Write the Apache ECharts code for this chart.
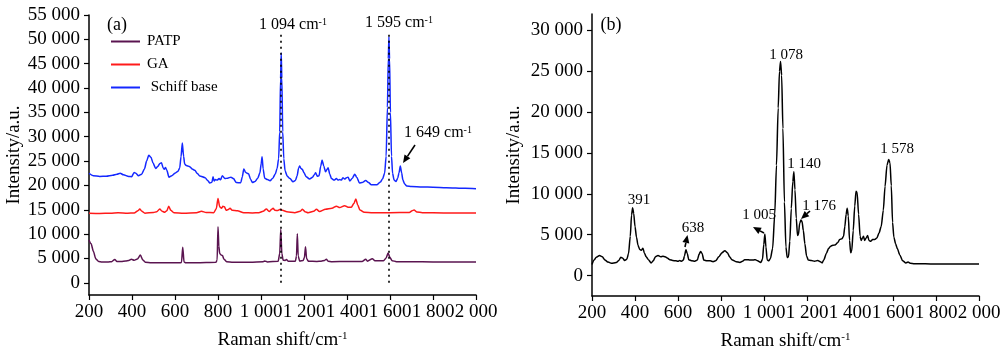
<!DOCTYPE html>
<html>
<head>
<meta charset="utf-8">
<script src="https://cdn.jsdelivr.net/npm/echarts@6/dist/echarts.min.js"></script>
<style>
html,body{margin:0;padding:0;background:#fff;}
#c{width:1000px;height:347px;}
</style>
</head>
<body>
<div id="c"></div>
<script>
// ---------- DATA ----------
const xTicks = [200, 400, 600, 800, 1000, 1200, 1400, 1600, 1800, 2000];
const yTicksA = [0, 5000, 10000, 15000, 20000, 25000, 30000, 35000, 40000, 45000, 50000, 55000];
const yTicksB = [0, 5000, 10000, 15000, 20000, 25000, 30000];

const patpShift = [200,210,220,232,245,260,290,305,320,330,350,370,385,397,410,425,439,450,462,490,560,620,630,636,642,650,700,790,796,800,804,808,815,821,827,840,870,950,1010,1017,1030,1080,1087,1092,1097,1103,1112,1118,1126,1160,1165,1169,1173,1180,1196,1202,1207,1212,1220,1260,1280,1296,1304,1312,1330,1400,1470,1487,1495,1518,1530,1570,1582,1591,1600,1610,1630,1700,1800,1900,2000];
const patpInt = [8800,8000,6500,4900,4400,4300,4300,4350,4800,4400,4400,4500,4600,4850,4650,4900,5700,4700,4250,4100,4100,4100,4150,7300,4300,4100,4100,4200,4700,11500,7500,6000,5700,5600,4900,4350,4250,4250,4350,4500,4300,4450,6000,11000,6000,4650,4600,4800,4450,4450,5500,10100,5500,4450,4600,5200,7400,5000,4450,4400,4450,4600,4850,4450,4350,4400,4400,4850,4450,4950,4550,4550,5100,6100,5200,4550,4350,4350,4300,4300,4300];

const gaShift = [200,250,300,335,380,410,428,436,446,460,500,515,529,540,552,562,571,580,595,640,700,723,745,780,792,800,808,816,823,830,838,846,856,866,890,920,960,990,1010,1025,1038,1050,1056,1065,1078,1090,1100,1120,1157,1182,1193,1205,1219,1245,1258,1272,1300,1330,1351,1366,1389,1405,1420,1432,1441,1450,1460,1480,1520,1600,1690,1703,1712,1725,1750,1850,2000];
const gaInt = [14300,14250,14300,14400,14300,14350,14800,15150,14700,14300,14450,14600,15150,14700,14500,14800,15750,14900,14400,14300,14400,14700,14450,14400,15200,17300,15600,15300,15700,15600,14900,15000,15300,14900,14800,14400,14350,14400,14700,15150,14650,15100,15300,14900,14850,15100,14900,14600,14400,14700,15100,14600,14400,14700,15100,14650,15100,15300,15750,15450,15850,15500,15500,16300,17200,16000,14950,14500,14400,14400,14450,14800,14950,14550,14400,14350,14350];

const schiffShift = [200,220,250,280,310,330,345,360,385,398,410,418,430,445,458,468,478,488,498,510,520,530,537,545,550,556,562,572,585,600,614,622,628,634,640,645,652,660,670,680,692,705,715,740,752,762,772,777,782,788,796,805,812,820,832,845,860,872,885,906,913,920,928,935,942,952,960,972,985,995,1001,1005,1010,1017,1030,1042,1055,1066,1075,1082,1087,1091,1094,1097,1101,1106,1112,1122,1135,1149,1160,1168,1175,1180,1186,1192,1200,1210,1226,1240,1248,1254,1262,1270,1278,1284,1292,1300,1306,1312,1320,1328,1340,1351,1358,1366,1374,1381,1389,1398,1405,1413,1425,1436,1445,1458,1470,1487,1500,1513,1540,1555,1565,1575,1582,1588,1592,1595,1598,1602,1607,1612,1619,1628,1636,1642,1648,1654,1660,1668,1678,1700,1750,1800,1862,1950,2000];
const schiffInt = [22500,22000,21850,21900,22100,22300,22500,22200,21850,21800,22650,22500,22000,22300,23400,25000,26200,25800,24600,23500,23900,24500,24650,23600,23300,23700,23100,21700,22000,22500,22900,23600,25900,28700,26000,24400,24100,24000,23800,23400,23100,22400,21950,21600,21000,20500,20650,21800,20900,21200,21100,21400,21150,22000,21400,21500,21700,21400,20600,20550,21800,23400,22700,22500,22400,21200,20600,20800,21500,22600,24500,25900,23400,21500,21200,20950,21500,22300,23500,25500,31000,42000,47200,42000,31000,25500,23000,21900,21400,20750,21000,22000,23600,24000,23500,23300,22600,21800,21300,21700,22200,22600,21900,22000,24000,25200,24000,22800,23200,23650,22300,21400,21100,21400,21100,21200,21100,21600,21300,21600,21700,20900,21500,22300,21700,20500,20600,21000,20600,20150,20150,20700,21300,22500,26000,36000,46000,50500,46000,35000,26000,22500,21100,20800,21500,22600,24000,22600,21100,20300,19900,19800,19700,19650,19550,19400,19300];

const bShift = [200,210,220,235,248,260,275,290,313,325,334,342,352,362,370,378,384,389,394,400,407,414,422,430,437,443,452,462,475,485,495,507,520,530,540,550,562,575,590,600,608,616,625,630,637,643,650,665,678,690,698,705,712,720,735,750,763,775,790,805,818,830,840,850,870,888,900,910,920,935,950,960,970,985,993,999,1004,1009,1015,1022,1030,1040,1050,1058,1066,1072,1077,1082,1088,1095,1102,1108,1114,1120,1127,1134,1139,1144,1150,1156,1160,1166,1172,1177,1183,1190,1198,1206,1220,1235,1250,1262,1270,1278,1290,1300,1310,1320,1330,1342,1352,1362,1370,1376,1382,1387,1392,1398,1403,1408,1415,1422,1428,1433,1440,1447,1452,1458,1463,1468,1475,1482,1488,1496,1505,1515,1525,1535,1545,1555,1563,1572,1580,1586,1592,1598,1604,1612,1620,1632,1645,1660,1670,1680,1700,1750,1800,1900,2000];
const bInt = [1350,1900,2250,2450,2300,1900,1650,1500,1600,1850,2250,2150,1850,2000,2700,4800,7400,8300,7600,6000,4700,3700,3200,3100,3350,2800,2300,1950,1550,1800,2300,2450,2300,2350,2300,2150,1950,1850,1800,1750,1850,1750,1900,2400,3150,2700,1950,1800,1750,1900,2600,2950,2700,1900,1800,1800,1700,1800,2300,2800,3050,2800,2300,1950,1700,1600,1750,1950,1950,1900,1900,1950,1800,1600,2000,3800,5100,3500,1900,1800,2100,3300,7500,13500,20500,25000,26200,24500,18000,9000,3500,2200,2300,4200,8200,11500,12700,10500,7000,4900,5000,6400,6800,6600,5500,3900,2400,1900,1850,1750,1850,1700,1550,1900,2700,3300,3600,3700,3750,4000,4400,4500,4800,6000,7500,8250,7300,4300,2800,3000,5500,8500,10300,10200,7500,4800,4300,4600,4800,4300,4600,4900,4300,4200,4400,4400,4600,5200,6000,8000,10900,13500,14200,13800,11000,6500,4700,3900,3300,2500,1800,1550,1650,1500,1450,1450,1400,1400,1400];

const markedShifts = [1094, 1595];

// ---------- CHART ----------
const FONT = '"Liberation Serif", "Times New Roman", serif';
function zip(xs, ys) { return xs.map((x, i) => [x, ys[i]]); }
function thou(v) {
  if (Math.abs(v) >= 1000) {
    const t = Math.floor(v / 1000), r = Math.abs(v % 1000);
    return t + ' ' + String(r).padStart(3, '0');
  }
  return String(v);
}

const chart = echarts.init(document.getElementById('c'), null, {renderer: 'canvas'});

function xAxis(gi) {
  return {
    type: 'value', gridIndex: gi, min: 200, max: 2000, interval: 200,
    name: 'Raman shift/cm{s|-1}', nameLocation: 'middle', nameGap: 36,
    nameTextStyle: {fontFamily: FONT, fontSize: 19, color: '#000',
      rich: {s: {fontFamily: FONT, fontSize: 11, verticalAlign: 'top', color: '#000'}}},
    axisLine: {show: true, onZero: false, lineStyle: {color: '#000', width: 1.5}},
    axisTick: {show: true, length: 5, lineStyle: {color: '#000', width: 1.2}},
    axisLabel: {fontFamily: FONT, fontSize: 19, color: '#000', margin: 8, formatter: thou, hideOverlap: false},
    splitLine: {show: false}
  };
}
function yAxis(gi, ticks, max, gap) {
  return {
    type: 'value', gridIndex: gi, min: -2500, max: max,
    name: 'Intensity/a.u.', nameLocation: 'middle', nameGap: gap,
    nameTextStyle: {fontFamily: FONT, fontSize: 19, color: '#000'},
    axisLine: {show: true, onZero: false, lineStyle: {color: '#000', width: 1.5}},
    axisTick: {show: true, length: 5, customValues: ticks, lineStyle: {color: '#000', width: 1.2}},
    axisLabel: {fontFamily: FONT, fontSize: 19, color: '#000', margin: 9, customValues: ticks, formatter: thou},
    splitLine: {show: false}
  };
}

function lineSeries(name, data, color, gi) {
  return {
    type: 'line', name: name, xAxisIndex: gi, yAxisIndex: gi, data: data,
    symbol: 'none', showSymbol: false, smooth: 0.25, smoothMonotone: 'x',
    lineStyle: {color: color, width: 1.5}, itemStyle: {color: color},
    silent: true
  };
}

const blue = lineSeries('Schiff base', zip(schiffShift, schiffInt), '#1428ff', 0);
blue.markLine = {
  silent: true, symbol: 'none', animation: false,
  label: {show: false},
  lineStyle: {type: [2, 4], color: '#000', width: 1.6},
  data: markedShifts.map(s => [{coord: [s, 0]}, {coord: [s, 51000]}])
};

function txt(x, y, text, size, rich) {
  const st = {text: text, x: x, y: y, fill: '#000', fontFamily: FONT, fontSize: size,
    align: 'center', verticalAlign: 'middle'};
  if (rich) st.rich = rich;
  return {type: 'text', silent: true, z: 50, style: st};
}
function arrow(x1, y1, x2, y2) { // tail -> head
  const dx = x2 - x1, dy = y2 - y1, L = Math.hypot(dx, dy);
  const ux = dx / L, uy = dy / L, hl = 8, hw = 3.5;
  const bx = x2 - ux * hl, by = y2 - uy * hl;
  return [
    {type: 'line', silent: true, z: 50, shape: {x1: x1, y1: y1, x2: bx, y2: by}, style: {stroke: '#000', lineWidth: 1.6}},
    {type: 'polygon', silent: true, z: 50, shape: {points: [[x2, y2], [bx - uy * hw, by + ux * hw], [bx + uy * hw, by - ux * hw]]}, style: {fill: '#000'}}
  ];
}
const supRich = {s: {fontFamily: FONT, fontSize: 10, verticalAlign: 'top', fill: '#000'}};

const option = {
  animation: false,
  backgroundColor: '#fff',
  grid: [
    {left: 89, top: 15, width: 387, height: 280, containLabel: false, outerBoundsMode: 'none'},
    {left: 592, top: 14, width: 387, height: 282, containLabel: false, outerBoundsMode: 'none'}
  ],
  xAxis: [xAxis(0), xAxis(1)],
  yAxis: [yAxis(0, yTicksA, 55000, 62), yAxis(1, yTicksB, 32000, 68)],
  legend: {
    data: ['PATP', 'GA', 'Schiff base'], orient: 'vertical', left: 110, top: 34,
    itemWidth: 29, itemHeight: 14, itemGap: 8, padding: 0,
    itemStyle: {opacity: 0},
    formatter: n => (n === 'Schiff base' ? ' ' + n : n),
    textStyle: {fontFamily: FONT, fontSize: 15, color: '#000', lineHeight: 14, padding: [0, 0, 0, 2]}
  },
  series: [
    lineSeries('PATP', zip(patpShift, patpInt), '#5a1450', 0),
    lineSeries('GA', zip(gaShift, gaInt), '#ff1a1a', 0),
    blue,
    lineSeries('SERS', zip(bShift, bInt), '#000000', 1)
  ],
  graphic: [
    txt(117, 25, '(a)', 18),
    txt(611, 25, '(b)', 18),
    txt(293, 25, '1 094 cm{s|-1}', 16, supRich),
    txt(399, 23, '1 595 cm{s|-1}', 16, supRich),
    txt(438, 133, '1 649 cm{s|-1}', 16, supRich),
    ...arrow(415, 145, 403, 163),
    txt(786, 55, '1 078', 15),
    txt(804, 164, '1 140', 15),
    txt(819, 206, '1 176', 15),
    ...arrow(810, 211, 801, 219),
    txt(759, 215, '1 005', 15),
    ...arrow(764, 233, 753, 227),
    txt(693, 228, '638', 15),
    ...arrow(685, 247, 687.5, 235),
    txt(639, 200, '391', 15),
    txt(897, 149, '1 578', 15)
  ]
};
chart.setOption(option);
</script>
</body>
</html>
